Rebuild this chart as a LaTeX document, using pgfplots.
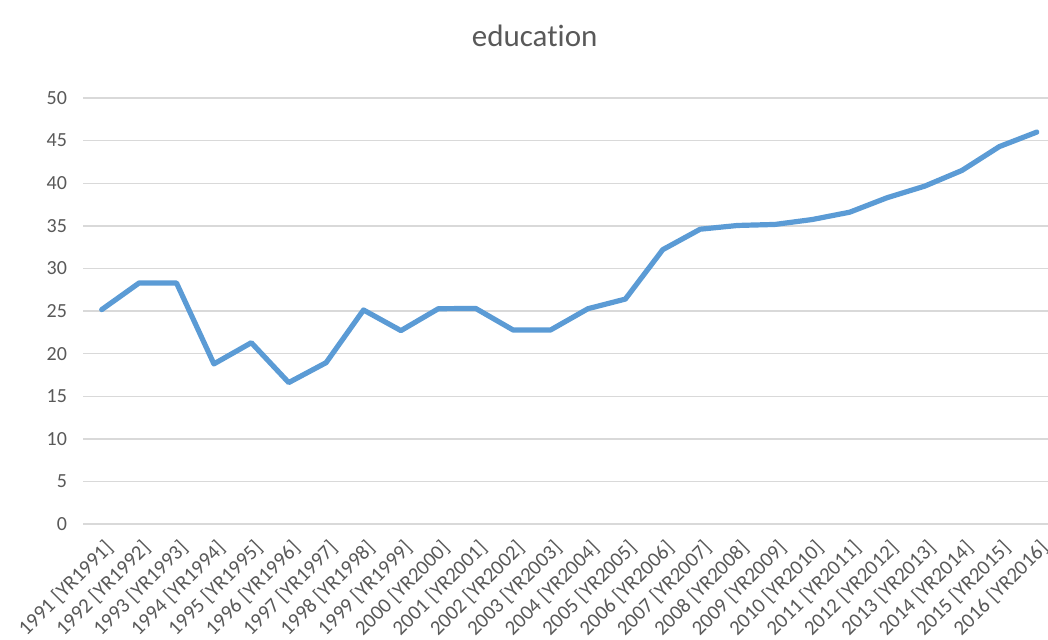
\documentclass[border=0pt]{standalone}
\usepackage{pgfplots}
\pgfplotsset{compat=1.18}
\usepackage{fontspec}
\setmainfont[Ligatures=NoCommon]{Carlito}
\definecolor{txt}{HTML}{595959}
\definecolor{grd}{HTML}{D9D9D9}
\definecolor{ln}{HTML}{5B9BD5}
\begin{document}
\begin{tikzpicture}[x=0.5pt,y=0.5pt]
\useasboundingbox (0,0) rectangle (1048,639);
\begin{axis}[
  at={(83pt*0.5,115pt*0.5)}, anchor=south west,
  scale only axis,
  width=482.5pt, height=213pt,
  xmin=-0.5, xmax=25.3,
  ymin=0, ymax=50,
  ytick={0,5,...,50},
  xtick={0,...,25},
  xticklabels={1991 [YR1991],1992 [YR1992],1993 [YR1993],1994 [YR1994],1995 [YR1995],1996 [YR1996],1997 [YR1997],1998 [YR1998],1999 [YR1999],2000 [YR2000],2001 [YR2001],2002 [YR2002],2003 [YR2003],2004 [YR2004],2005 [YR2005],2006 [YR2006],2007 [YR2007],2008 [YR2008],2009 [YR2009],2010 [YR2010],2011 [YR2011],2012 [YR2012],2013 [YR2013],2014 [YR2014],2015 [YR2015],2016 [YR2016]},
  ymajorgrids,
  grid style={grd, line width=0.7pt},
  axis line style={draw=none},
  major tick length=0pt,
  yticklabel style={font=\fontsize{10}{12}\selectfont, text=txt, xshift=-4.5pt},
  xticklabel style={font=\fontsize{10.4}{12}\selectfont, text=txt, rotate=45, anchor=north east, xshift=-3.5pt, yshift=-4.5pt, inner sep=1pt},
  /pgf/number format/assume math mode=true,
  title=education,
  title style={font=\fontsize{15.5}{18}\selectfont, text=txt, at={(0.468,1)}, anchor=center, yshift=25pt},
  clip=false,
]
\addplot[ln, line width=2.6pt, line join=round, line cap=round] coordinates {
(0,25.16) (1,28.29) (2,28.29) (3,18.79) (4,21.28) (5,16.6) (6,18.94) (7,25.12)
(8,22.7) (9,25.27) (10,25.3) (11,22.77) (12,22.77) (13,25.27) (14,26.4) (15,32.2)
(16,34.6) (17,35.04) (18,35.16) (19,35.74) (20,36.6) (21,38.3) (22,39.65) (23,41.5)
(24,44.3) (25,46.0)
};
\end{axis}
\end{tikzpicture}
\end{document}
